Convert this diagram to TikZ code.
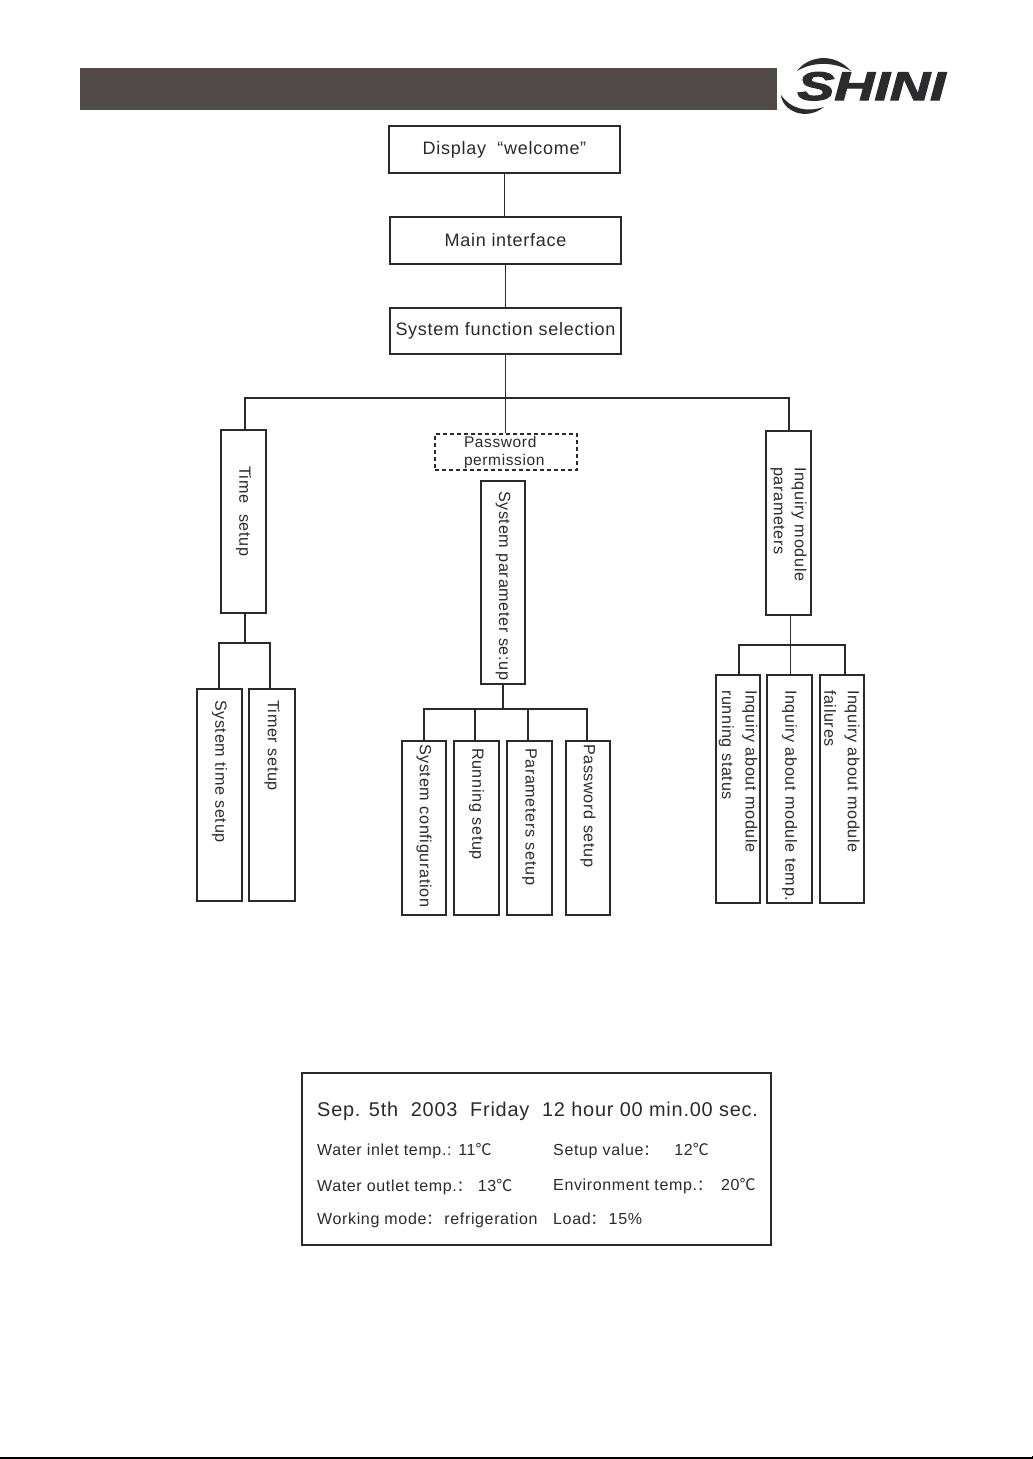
\documentclass[tikz,border=0pt]{standalone}
\usepackage{fontspec}
\setmainfont{Liberation Sans}
\newfontfamily\cjk{Noto Sans CJK SC}
\newfontfamily\spaced[LetterSpace=4]{Liberation Sans}
\newfontfamily\logofont[FakeBold=2.5]{Liberation Sans Bold Italic}
\newcommand{\degc}{{\cjk\fontsize{16}{16}\selectfont ℃}}
\newcommand{\fcolon}{{\cjk\fontsize{15}{15}\selectfont ：}}
\definecolor{barc}{HTML}{504B49}
\definecolor{logoc}{HTML}{2B2B2D}
\definecolor{linec}{HTML}{2A2A2A}
\tikzset{
  hbox/.style={draw=linec,line width=1.3pt,inner sep=0pt,font=\spaced\fontsize{18}{20}\selectfont,text=linec},
  vbox/.style={draw=linec,line width=1.3pt,inner sep=0pt,rotate=-90,align=left,font=\spaced\fontsize{16.2}{21}\selectfont,text=linec},
  wide/.style={font=\spaced\fontsize{16.2}{23.5}\selectfont},
  conn/.style={draw=linec,line width=1.4pt},
  lcd/.style={anchor=base west,inner sep=0pt,text=linec,font=\spaced\fontsize{16}{18}\selectfont},
  lcdbig/.style={anchor=base west,inner sep=0pt,text=linec,font=\spaced\fontsize{19.9}{22}\selectfont},
}
\begin{document}
\begin{tikzpicture}[x=1pt,y=-1pt]
\useasboundingbox (0,0) rectangle (1033,1459);
\fill[white] (0,0) rectangle (1033,1459);
% header
\fill[barc] (80,68) rectangle (777,110);
\node[inner sep=0pt,anchor=base west,text=logoc,font=\logofont\fontsize{40}{40}\selectfont,xscale=1.39] (logo) at (797,100) {SHINI};
\fill[logoc] (797,71) .. controls (806,58) and (832,50) .. (851,71) .. controls (832,61) and (812,62) .. (797,71) -- cycle;
\fill[logoc] (781,95) .. controls (782,110) and (805,122) .. (824,107) .. controls (805,113) and (790,108) .. (781,95) -- cycle;
\fill[black] (0,1457) rectangle (1033,1459);
\fill[black] (1032,1456) rectangle (1033,1459);
% top boxes
\node[hbox,minimum width=231pt,minimum height=47pt] (display) at (504.5,149.5) {Display ~“welcome”};
\node[hbox,minimum width=231pt,minimum height=47pt] (main) at (505.5,240.5) {Main interface};
\node[hbox,minimum width=231pt,minimum height=46pt] (sys) at (505.5,331) {System function selection};
% second level
\node[vbox,minimum height=45pt,text width=183pt] (time) at (243.5,521.5) {\hspace*{36pt}Time ~setup};
\node[draw=linec,line width=1.1pt,dash pattern=on 4pt off 3pt,minimum width=142pt,minimum height=36pt,inner sep=0pt,align=left,text=linec,font=\spaced\fontsize{15.5}{18}\selectfont] (pw) at (506,452) {\parbox{84pt}{Password\\permission}};
\node[vbox,minimum height=44pt,text width=203pt] (param) at (503,582.5) {\hspace*{10pt}System parameter se:up};
\node[vbox,minimum height=45pt,text width=184pt] (inq) at (788.5,523) {\hspace*{36pt}Inquiry module\\\hspace*{36pt}parameters};
% third level, left
\node[vbox,minimum height=45pt,text width=212pt] (systime) at (219.5,795) {\hspace*{11pt}System time setup};
\node[vbox,minimum height=46pt,text width=212pt] (timer) at (272,795) {\hspace*{11pt}\raisebox{2pt}{Timer setup}};
% third level, centre
\node[vbox,minimum height=44pt,text width=174pt] (cfg) at (424,828) {\hspace*{3pt}System configuration};
\node[vbox,minimum height=45pt,text width=174pt] (run) at (476.5,828) {\hspace*{7pt}Running setup};
\node[vbox,minimum height=45pt,text width=174pt] (pset) at (529.5,828) {\hspace*{7pt}Parameters setup};
\node[vbox,minimum height=44pt,text width=174pt] (pwset) at (588,828) {\hspace*{3pt}Password setup};
% third level, right
\node[vbox,wide,minimum height=44pt,text width=228pt] (qrun) at (738,789) {\hspace*{15pt}Inquiry about module\\\hspace*{15pt}running status};
\node[vbox,minimum height=45pt,text width=228pt] (qtemp) at (789.5,789) {\hspace*{15pt}Inquiry about module temp.};
\node[vbox,wide,minimum height=44pt,text width=228pt] (qfail) at (842,789) {\hspace*{15pt}Inquiry about module\\\hspace*{15pt}failures};
% connectors (rotated boxes: west = top edge on the page, east = bottom edge)
\coordinate (j1) at (505,398);
\coordinate (j2) at (245,643);
\coordinate (j3) at (503,709);
\coordinate (j4) at (790,645);
\draw[conn] (display.south) -- (display.south |- main.north);
\draw[conn] (main.south) -- (main.south |- sys.north);
\draw[conn] (sys.south) -- (sys.south |- pw.north);
\draw[conn] ([xshift=1.5pt]time.west) |- (j1) -| ([xshift=.5pt]inq.west);
\draw[conn] ([xshift=1.5pt]time.east) -- (j2);
\draw[conn] ([xshift=-.5pt]systime.west) |- (j2) -| ([xshift=-2pt]timer.west);
\draw[conn,line width=2pt] (cfg.west) |- (j3) -| ([xshift=-1pt]pwset.west);
\draw[conn] (param.east) -- (j3);
\draw[conn] ([xshift=-1.5pt]run.west) -- ++(0,-32);
\draw[conn] ([xshift=-1.5pt]pset.west) -- ++(0,-32);
\draw[conn,line width=1pt] ([xshift=1.5pt]inq.east) -- ([xshift=.5pt]qtemp.west);
\draw[conn] ([xshift=1pt]qrun.west) |- (j4) -| ([xshift=3pt]qfail.west);
% display panel
\node[draw=linec,line width=1.1pt,minimum width=469pt,minimum height=172pt,inner sep=0pt] (panel) at (536.5,1159) {};
\node[lcdbig] (t1) at (317,1116) {Sep. 5th ~2003 ~Friday ~12 hour 00 min.00 sec.};
\node[lcd] (t2) at (317,1155) {Water inlet temp.: 11\degc};
\node[lcd] (t3) at (553,1155) {Setup value\fcolon\hspace{16pt}12\degc};
\node[lcd] (t4) at (317,1191) {Water outlet temp.\fcolon\hspace{6pt}13\degc};
\node[lcd] (t5) at (553,1190) {Environment temp.\fcolon\hspace{9pt}20\degc};
\node[lcd] (t6) at (317,1224) {Working mode\fcolon\hspace{3pt}refrigeration};
\node[lcd] (t7) at (553,1224) {Load\fcolon\hspace{3pt}15\%};
\end{tikzpicture}
\end{document}
